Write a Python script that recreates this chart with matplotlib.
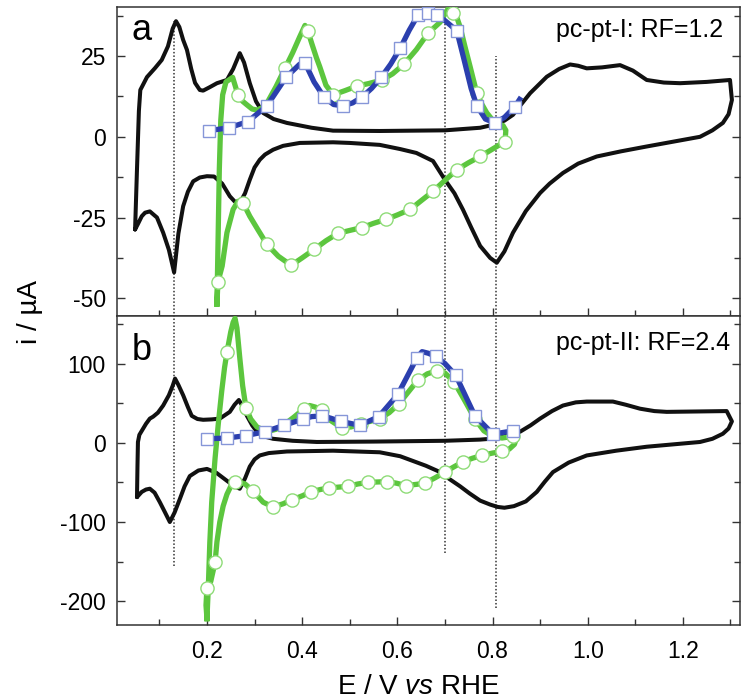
import numpy as np
import matplotlib
matplotlib.use("Agg")
from matplotlib import pyplot as plt
from matplotlib.ticker import MultipleLocator

plt.rcParams['font.family'] = ['Liberation Sans', 'DejaVu Sans']
plt.rcParams['mathtext.fontset'] = 'custom'
plt.rcParams['mathtext.rm'] = 'Liberation Sans'
plt.rcParams['mathtext.it'] = 'Liberation Sans:italic'
plt.rcParams['axes.unicode_minus'] = False

# ---------------- panel a : pc-pt-I ----------------
# blank CV (full loop: anodic then cathodic)
a_cv_E = [0.049, 0.053, 0.057, 0.060, 0.074, 0.091, 0.105, 0.118, 0.128, 0.135, 0.142, 0.150,
          0.158, 0.167, 0.175, 0.185, 0.192, 0.205, 0.221, 0.242, 0.255, 0.269, 0.278, 0.290,
          0.303, 0.318, 0.340, 0.368, 0.420, 0.465, 0.563, 0.700, 0.774, 0.801, 0.825, 0.843,
          0.860, 0.879, 0.914, 0.940, 0.963, 0.980, 0.998, 1.030, 1.068, 1.095, 1.124, 1.160,
          1.194, 1.250, 1.299, 1.303, 1.296, 1.284, 1.262, 1.236, 1.180, 1.124, 1.070, 1.019,
          0.980, 0.948, 0.920, 0.900, 0.870, 0.843, 0.825, 0.809, 0.795, 0.774, 0.755, 0.738,
          0.720, 0.700, 0.675, 0.640, 0.606, 0.563, 0.500, 0.465, 0.395, 0.360, 0.339, 0.322,
          0.311, 0.300, 0.290, 0.280, 0.269, 0.258, 0.248, 0.232, 0.215, 0.200, 0.185, 0.171,
          0.160, 0.150, 0.140, 0.131, 0.120, 0.108, 0.095, 0.080, 0.070, 0.063, 0.055, 0.049]
a_cv_i = [-28.7, -10.0, 8.0, 14.5, 18.5, 21.3, 23.8, 28.0, 33.5, 35.8, 34.0, 30.0,
          26.9, 21.0, 16.7, 14.5, 14.3, 15.3, 16.6, 17.6, 21.0, 25.9, 23.0, 16.6,
          11.0, 7.4, 5.5, 4.3, 2.8, 1.9, 1.8, 2.0, 2.8, 3.7, 5.0, 6.8,
          10.0, 13.5, 18.6, 21.0, 22.4, 22.0, 21.2, 21.5, 22.2, 20.5, 17.6, 16.8,
          16.6, 17.0, 17.6, 11.4, 7.0, 4.3, 2.0, 0.0, -1.5, -3.0, -4.5, -6.1,
          -8.3, -11.2, -14.5, -17.4, -23.0, -29.7, -35.5, -39.0, -37.5, -33.8, -28.0, -22.6,
          -17.5, -13.3, -7.5, -5.0, -3.8, -2.5, -1.9, -1.7, -1.9, -2.8, -4.0, -5.5,
          -7.1, -9.5, -13.3, -17.5, -20.5, -20.0, -18.4, -14.5, -12.3, -12.2, -12.6, -13.8,
          -17.0, -21.5, -30.0, -42.0, -35.0, -29.7, -25.0, -23.1, -23.5, -24.6, -27.0, -28.7]

# green curve (line)
a_gr_E = [0.221, 0.223, 0.226, 0.229, 0.233, 0.240, 0.254, 0.260, 0.265, 0.275, 0.284, 0.295,
          0.305, 0.316, 0.326, 0.345, 0.364, 0.380, 0.395, 0.406, 0.412, 0.420, 0.430, 0.437,
          0.450, 0.465, 0.490, 0.515, 0.540, 0.568, 0.590, 0.614, 0.640, 0.664, 0.690, 0.706,
          0.717, 0.725, 0.732, 0.742, 0.753, 0.767, 0.778, 0.788, 0.805, 0.822, 0.828, 0.827,
          0.826, 0.800, 0.774, 0.750, 0.725, 0.700, 0.675, 0.650, 0.627, 0.600, 0.576, 0.550,
          0.526, 0.500, 0.475, 0.450, 0.425, 0.400, 0.377, 0.350, 0.326, 0.308, 0.290, 0.276,
          0.265, 0.255, 0.242, 0.232, 0.223, 0.221]
a_gr_i = [-51.8, -35.0, -10.0, 5.0, 13.0, 17.0, 18.4, 15.5, 13.0, 11.0, 9.9, 8.6,
          8.3, 9.0, 10.4, 15.5, 21.2, 26.0, 31.0, 34.5, 32.8, 29.0, 24.5, 21.7,
          16.0, 13.0, 14.3, 15.7, 16.5, 17.6, 19.5, 22.5, 27.0, 32.0, 35.5, 39.5,
          38.3, 37.0, 34.0, 28.0, 21.7, 13.5, 10.0, 7.4, 4.3, 3.5, 2.0, 0.0,
          -1.5, -3.8, -6.1, -8.0, -10.2, -13.5, -16.9, -19.8, -22.5, -24.2, -25.6, -26.8,
          -28.1, -29.0, -29.9, -32.2, -34.9, -37.5, -39.8, -37.0, -33.3, -29.0, -24.6, -20.5,
          -20.0, -22.5, -29.7, -40.0, -45.0, -51.8]
# green circles
a_gc_E = [0.265, 0.364, 0.412, 0.465, 0.515, 0.568, 0.614, 0.664, 0.717, 0.767,
          0.826, 0.774, 0.725, 0.675, 0.627, 0.576, 0.526, 0.475, 0.425, 0.377, 0.326, 0.276, 0.223]
a_gc_i = [13.0, 21.2, 32.8, 13.0, 15.7, 17.6, 22.5, 32.0, 38.3, 13.5,
          -1.5, -6.1, -10.2, -16.9, -22.5, -25.6, -28.1, -29.9, -34.9, -39.8, -33.3, -20.5, -45.0]

# blue curve (line) and squares
a_bl_E = [0.204, 0.246, 0.286, 0.326, 0.366, 0.395, 0.406, 0.425, 0.446, 0.466, 0.486, 0.506,
          0.526, 0.546, 0.566, 0.586, 0.606, 0.625, 0.643, 0.650, 0.664, 0.683, 0.700, 0.712,
          0.725, 0.740, 0.755, 0.767, 0.785, 0.805, 0.825, 0.847, 0.857]
a_bl_i = [1.9, 2.8, 4.7, 9.6, 18.4, 22.5, 22.9, 17.0, 12.3, 10.0, 9.6, 10.5,
          12.3, 15.0, 18.4, 22.5, 27.4, 33.0, 37.6, 38.5, 38.3, 37.6, 36.0, 34.5,
          32.8, 24.0, 15.0, 9.6, 5.5, 4.3, 6.0, 9.3, 11.6]
a_bs_E = [0.204, 0.246, 0.286, 0.326, 0.366, 0.406, 0.446, 0.486, 0.526, 0.566, 0.606,
          0.643, 0.664, 0.683, 0.725, 0.767, 0.805, 0.847]
a_bs_i = [1.9, 2.8, 4.7, 9.6, 18.4, 22.9, 12.3, 9.6, 12.3, 18.4, 27.4,
          37.6, 38.3, 37.6, 32.8, 9.6, 4.3, 9.3]

# ---------------- panel b : pc-pt-II ----------------
b_cv_E = [0.053, 0.054, 0.055, 0.058, 0.063, 0.072, 0.080, 0.087, 0.097, 0.108, 0.120, 0.128,
          0.133, 0.140, 0.150, 0.160, 0.168, 0.180, 0.192, 0.210, 0.227, 0.248, 0.258, 0.267,
          0.275, 0.284, 0.295, 0.305, 0.320, 0.339, 0.380, 0.431, 0.550, 0.700, 0.774, 0.795,
          0.825, 0.858, 0.880, 0.900, 0.925, 0.948, 0.975, 0.998, 1.053, 1.080, 1.110, 1.140,
          1.166, 1.230, 1.292, 1.303, 1.296, 1.284, 1.262, 1.236, 1.180, 1.124, 1.060, 0.998,
          0.960, 0.927, 0.910, 0.893, 0.870, 0.845, 0.825, 0.811, 0.795, 0.774, 0.752, 0.732,
          0.710, 0.690, 0.660, 0.633, 0.606, 0.563, 0.465, 0.368, 0.330, 0.311, 0.300, 0.290,
          0.280, 0.269, 0.258, 0.242, 0.220, 0.200, 0.182, 0.164, 0.153, 0.143, 0.132, 0.122,
          0.112, 0.101, 0.090, 0.080, 0.072, 0.063, 0.053]
b_cv_i = [-68.6, -30.0, 1.0, 10.0, 15.0, 24.0, 30.5, 33.0, 38.0, 47.0, 60.0, 72.0,
          81.0, 73.0, 60.0, 45.0, 34.0, 30.0, 29.0, 29.5, 30.5, 39.0, 48.0, 54.0,
          46.0, 34.0, 22.0, 14.0, 8.0, 5.0, 2.5, 1.0, 1.5, 2.5, 4.0, 5.0,
          8.5, 14.0, 22.0, 30.5, 40.0, 47.0, 51.0, 52.0, 52.0, 48.0, 43.0, 40.0,
          39.0, 39.5, 40.0, 27.0, 18.0, 11.4, 5.0, 1.0, -2.0, -5.0, -10.0, -16.0,
          -25.0, -37.0, -49.0, -62.0, -74.0, -80.0, -82.0, -81.0, -78.0, -73.0, -64.0, -55.0,
          -46.0, -37.0, -29.0, -23.0, -17.0, -12.0, -10.0, -11.0, -13.0, -16.0, -21.0, -30.0,
          -45.0, -58.0, -55.0, -48.0, -38.0, -33.0, -35.0, -42.0, -55.0, -71.0, -88.0, -100.0,
          -88.0, -75.0, -63.0, -58.0, -59.0, -62.0, -68.6]

b_gr_E = [0.200, 0.203, 0.206, 0.210, 0.217, 0.224, 0.231, 0.237, 0.242, 0.250, 0.255, 0.259,
          0.263, 0.269, 0.275, 0.282, 0.292, 0.305, 0.326, 0.345, 0.360, 0.382, 0.404, 0.416,
          0.428, 0.441, 0.460, 0.483, 0.503, 0.523, 0.543, 0.563, 0.583, 0.603, 0.623, 0.643,
          0.663, 0.683, 0.700, 0.719, 0.740, 0.763, 0.782, 0.801, 0.820, 0.843, 0.850, 0.846,
          0.835, 0.820, 0.800, 0.778, 0.758, 0.738, 0.720, 0.700, 0.680, 0.658, 0.640, 0.618,
          0.598, 0.578, 0.558, 0.538, 0.517, 0.496, 0.476, 0.456, 0.438, 0.419, 0.400, 0.379,
          0.360, 0.339, 0.318, 0.297, 0.280, 0.270, 0.259, 0.250, 0.242, 0.234, 0.227, 0.221,
          0.217, 0.208, 0.200, 0.198, 0.200]
b_gr_i = [-222, -180, -126, -75, -20, 25, 65, 95, 114, 140, 152, 157,
          145, 107, 72, 44, 30, 20, 14, 17, 22, 32, 43, 47,
          45, 41, 28, 19, 20, 24, 27, 30.5, 38, 49, 64, 79,
          87, 91, 88, 77, 55, 30, 15, 8, 6, 8, 5, -2,
          -8, -11, -13, -16, -19.5, -24, -30, -37, -44, -51, -52.5, -54,
          -51, -49, -49.5, -50, -52, -55, -56, -57, -59, -62, -67, -72,
          -77, -81, -75, -61, -52, -50, -50, -55, -65, -80, -100, -125,
          -151, -175, -183, -205, -222]
b_gc_E = [0.242, 0.282, 0.404, 0.441, 0.483, 0.523, 0.563, 0.603, 0.643, 0.683, 0.719, 0.763, 0.843,
          0.820, 0.778, 0.738, 0.700, 0.658, 0.618, 0.578, 0.538, 0.496, 0.456, 0.419, 0.379,
          0.339, 0.297, 0.259, 0.217, 0.200]
b_gc_i = [114, 44, 43, 41, 19, 24, 30.5, 49, 79, 91, 77, 30, 8,
          -11, -16, -24, -37, -51, -54, -49, -50, -55, -57, -62, -72,
          -81, -61, -50, -151, -183]

b_bl_E = [0.200, 0.242, 0.282, 0.322, 0.362, 0.402, 0.420, 0.441, 0.460, 0.481, 0.521, 0.561,
          0.601, 0.641, 0.652, 0.665, 0.681, 0.700, 0.723, 0.763, 0.801, 0.843, 0.850]
b_bl_i = [5, 6, 9, 14, 22, 30, 33, 34, 31, 27, 22, 33,
          61, 107, 115, 113, 109, 100, 85, 34, 11, 15, 17]
b_bs_E = [0.200, 0.242, 0.282, 0.322, 0.362, 0.402, 0.441, 0.481, 0.521, 0.561, 0.601,
          0.641, 0.681, 0.723, 0.763, 0.801, 0.843]
b_bs_i = [5, 6, 9, 14, 22, 30, 34, 27, 22, 33, 61, 107, 109, 85, 34, 11, 15]

# dotted guide lines (E, top, bottom) for each panel
guide_E = [0.131, 0.700, 0.808]
guide_a = [(36, -60), (40, -60), (25, -60)]
guide_b = [(170, -156), (170, -139), (170, -208)]

black = '#111111'
green = '#5cc63e'
green_edge = '#8fdc78'
blue = '#2b3fae'
blue_edge = '#8696d8'

fig = plt.figure(figsize=(7.46, 6.99), dpi=100)
ax_a = fig.add_axes([117 / 746, 1 - 316 / 699, 623 / 746, 309 / 699])
ax_b = fig.add_axes([117 / 746, 1 - 625 / 699, 623 / 746, 309 / 699], sharex=ax_a)


def draw_panel(ax, cv, gr, gc, bl, bs, guides):
    for x, (top, bot) in zip(guide_E, guides):
        ax.vlines(x, bot, top, colors='#333333', linestyles=(0, (1.0, 1.3)), linewidth=1.1, zorder=1)
    ax.plot(*cv, color=black, lw=2.9, solid_joinstyle='round', solid_capstyle='round', zorder=2)
    ax.plot(*gr, color=green, lw=3.8, solid_joinstyle='round', zorder=3)
    ax.plot(*gc, ls='none', marker='o', ms=9.5, mfc='white', mec=green_edge, mew=1.0, zorder=4)
    ax.plot(*bl, color=blue, lw=3.8, solid_joinstyle='round', zorder=5)
    ax.plot(*bs, ls='none', marker='s', ms=8.5, mfc='white', mec=blue_edge, mew=1.0, zorder=6)
    for s in ax.spines.values():
        s.set_color('#333333')
        s.set_linewidth(1.1)
    ax.tick_params(which='both', direction='in', left=True, right=True, top=False, bottom=True,
                   color='#333333', labelsize=16.5)
    ax.tick_params(which='major', length=6, width=1.0, pad=8)
    ax.tick_params(which='minor', length=4, width=1.0)
    ax.tick_params(axis='x', pad=11)


draw_panel(ax_a, (a_cv_E, a_cv_i), (a_gr_E, a_gr_i), (a_gc_E, a_gc_i),
           (a_bl_E, a_bl_i), (a_bs_E, a_bs_i), guide_a)
draw_panel(ax_b, (b_cv_E, b_cv_i), (b_gr_E, b_gr_i), (b_gc_E, b_gc_i),
           (b_bl_E, b_bl_i), (b_bs_E, b_bs_i), guide_b)

ax_a.set_xlim(0.011, 1.32)
ax_a.set_ylim(-55.5, 40.2)
ax_b.set_ylim(-230, 160)
ax_a.xaxis.set_major_locator(MultipleLocator(0.2))
ax_a.xaxis.set_minor_locator(MultipleLocator(0.1))
ax_a.yaxis.set_major_locator(MultipleLocator(25))
ax_a.yaxis.set_minor_locator(MultipleLocator(12.5))
ax_b.yaxis.set_major_locator(MultipleLocator(100))
ax_b.yaxis.set_minor_locator(MultipleLocator(50))
ax_a.tick_params(axis='x', labelbottom=False)
ax_b.xaxis.set_major_formatter(plt.FuncFormatter(lambda v, p: '%.1f' % v))

ax_a.text(0.024, 0.893, 'a', transform=ax_a.transAxes, fontsize=26, va='baseline')
ax_b.text(0.024, 0.858, 'b', transform=ax_b.transAxes, fontsize=26, va='baseline')
ax_a.text(0.973, 0.903, 'pc-pt-I: RF=1.2', transform=ax_a.transAxes, fontsize=18,
          ha='right', va='baseline')
ax_b.text(0.984, 0.890, 'pc-pt-II: RF=2.4', transform=ax_b.transAxes, fontsize=18,
          ha='right', va='baseline')

fig.text(418 / 746, 5 / 699, r'E / V $\mathit{vs}$ RHE', fontsize=20, ha='center', va='baseline')
fig.text(30 / 746, 1 - 312 / 699, 'i / µA', fontsize=20, rotation=90, ha='center', va='center')

fig.savefig('out.png', dpi=100)
